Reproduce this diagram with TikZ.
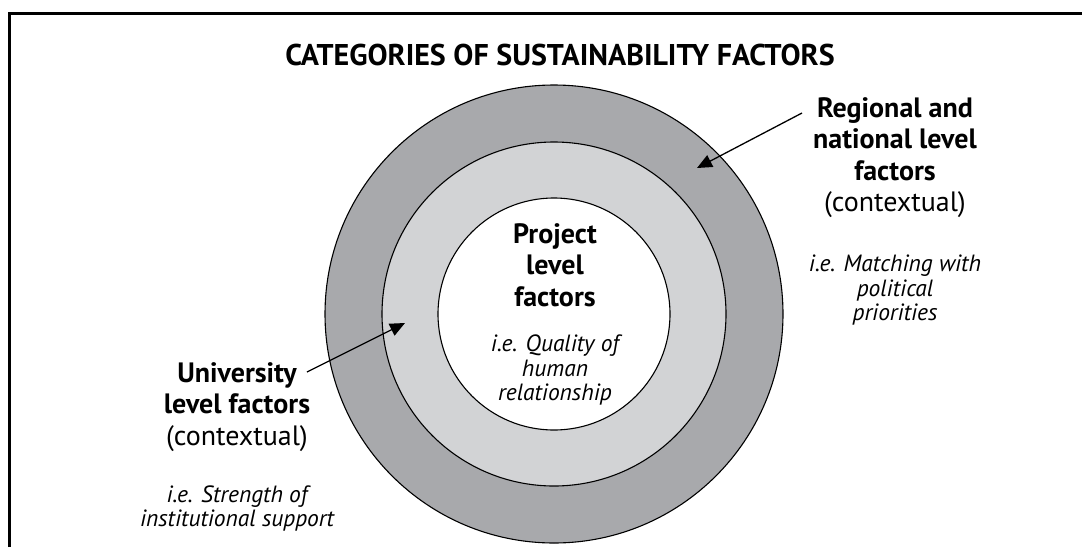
\documentclass[tikz,border=0pt]{standalone}
\usepackage{fontspec}
\setmainfont{PT Sans}
\usetikzlibrary{arrows.meta, positioning}
\definecolor{ringdark}{RGB}{168,169,172}
\definecolor{ringlight}{RGB}{210,211,213}
\tikzset{
  ring/.style={
    circle, draw=black, line width=1.1pt, inner sep=0pt
  },
  heading/.style ={font=\fontsize{30}{34}\selectfont\bfseries, inner sep=0pt},
  catlabel/.style={align=center, inner sep=0pt,
    font=\fontsize{28}{31.5}\selectfont},
  example/.style ={align=center, inner sep=0pt,
    font=\fontsize{23.5}{24.5}\selectfont\itshape},
  pointer/.style ={-{Triangle[length=15pt, width=13pt]}, line width=1.3pt},
}
\begin{document}
\begin{tikzpicture}[x=1pt, y=-1pt]
\useasboundingbox (0,0) rectangle (1082,547);

%% ---- FRAME ----
\draw[line width=2.7pt] (9.5,547) -- (9.5,13.5) -- (1082,13.5);

%% ---- TITLE ----
\node[heading, anchor=base] (title) at (560,65) {CATEGORIES OF SUSTAINABILITY FACTORS};

%% ---- RINGS ----
\node[ring, fill=ringdark,  minimum size=458pt] (outer)  at (554,314) {};
\node[ring, fill=ringlight, minimum size=344pt] (middle) at (554,314) {};
\node[ring, fill=white,     minimum size=232pt] (inner)  at (554,314) {};

%% ---- PROJECT ----
\node[catlabel, anchor=north] (projlabel) at (555,223)
  {\bfseries Project\\\bfseries level\\\bfseries factors};
\node[example, below=28pt of projlabel] (projexample)
  {i.e. Quality of\\human\\relationship};

%% ---- REGIONAL / NATIONAL ----
\node[catlabel, anchor=north] (reglabel) at (895,97)
  {\bfseries Regional and\\\bfseries national level\\\bfseries factors\\(contextual)};
\node[example, below=37pt of reglabel] (regexample)
  {i.e. Matching with\\political\\priorities};

%% ---- UNIVERSITY ----
\node[catlabel, anchor=north] (unilabel) at (237,362)
  {\bfseries University\\\bfseries level factors\\(contextual)};
\node[example, below=34pt of unilabel] (uniexample)
  {i.e. Strength of\\institutional support};

%% ---- POINTERS ----
\coordinate (regtail) at (802,113);
\coordinate (regtip)  at (697,168);
\draw[pointer] (regtail) -- (regtip);

\coordinate (unitail) at (307,372);
\coordinate (unitip)  at (405,323);
\draw[pointer] (unitail) -- (unitip);

\end{tikzpicture}
\end{document}
